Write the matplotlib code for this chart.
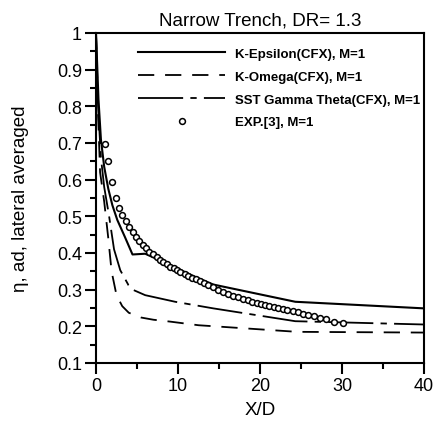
import numpy as np
import matplotlib
matplotlib.use("Agg")
import matplotlib.pyplot as plt
from matplotlib.ticker import MultipleLocator

# curves
x_keps = [0, 0.3, 0.6, 1.0, 1.5, 2.0, 2.6, 3.5, 4.45, 6.0, 8.0, 10.0, 12.0, 14.3, 24.3, 40.0]
y_keps = [1.0, 0.82, 0.71, 0.635, 0.575, 0.53, 0.49, 0.445, 0.396, 0.398, 0.378, 0.357, 0.336, 0.314, 0.267, 0.249]

x_komg = [0, 0.25, 0.5, 1.0, 1.5, 1.9, 2.5, 3.2, 4.0, 5.5, 7.0, 9.0, 12.5, 24.5, 40.0]
y_komg = [1.0, 0.78, 0.62, 0.54, 0.44, 0.35, 0.285, 0.255, 0.237, 0.224, 0.218, 0.213, 0.203, 0.185, 0.183]

x_sst = [0, 0.25, 0.6, 1.0, 1.6, 2.2, 2.96, 3.97, 4.57, 6.0, 9.65, 14.3, 24.3, 40.0]
y_sst = [1.0, 0.80, 0.66, 0.58, 0.50, 0.41, 0.353, 0.312, 0.299, 0.285, 0.267, 0.249, 0.214, 0.205]

x_exp = [1.1, 1.5, 2.0, 2.4, 2.8, 3.2, 3.6, 4.0, 4.5, 4.9, 5.3, 5.7, 6.1, 6.5, 7.0, 7.4,
         7.8, 8.2, 8.6, 9.0, 9.5, 9.9, 10.3, 10.8, 11.2, 11.7, 12.2, 12.7, 13.2, 13.7,
         14.3, 14.9, 15.5, 16.1, 16.7, 17.3, 17.9, 18.5, 19.05, 19.6, 20.1, 20.6, 21.1,
         21.65, 22.2, 22.8, 23.35, 24.0, 24.6, 25.2, 25.9, 26.6, 27.3, 28.1, 29.0, 30.1]
y_exp = [0.698, 0.651, 0.594, 0.549, 0.523, 0.503, 0.486, 0.470, 0.456, 0.444, 0.433,
         0.423, 0.414, 0.404, 0.396, 0.389, 0.381, 0.375, 0.369, 0.363, 0.358, 0.353,
         0.348, 0.343, 0.338, 0.333, 0.328, 0.323, 0.318, 0.313, 0.306, 0.300, 0.294,
         0.288, 0.283, 0.279, 0.275, 0.271, 0.266, 0.263, 0.260, 0.257, 0.255, 0.252,
         0.249, 0.246, 0.244, 0.241, 0.238, 0.235, 0.231, 0.228, 0.223, 0.219, 0.213, 0.208]

labels = ["K-Epsilon(CFX), M=1", "K-Omega(CFX), M=1",
          "SST Gamma Theta(CFX), M=1", "EXP.[3], M=1"]

plt.rcParams['font.family'] = ['Liberation Sans', 'DejaVu Sans']

fig = plt.figure(figsize=(4.4, 4.31), dpi=100)
ax = fig.add_axes([96 / 440, 1 - 364 / 431, 328 / 440, 330 / 431])

ax.plot(x_keps, y_keps, color='black', lw=1.5, label=labels[0])
l2, = ax.plot(x_komg, y_komg, color='black', lw=1.3, label=labels[1])
l2.set_dashes((9, 6))
l3, = ax.plot(x_sst, y_sst, color='black', lw=1.3, label=labels[2])
l3.set_dashes((25, 4, 3.5, 4))
ax.plot(x_exp, y_exp, 'o', ms=4.2, mfc='white', mec='black', mew=1.1,
        linestyle='none', label=labels[3])

ax.set_xlim(0, 40)
ax.set_ylim(0.1, 1.0)
ax.xaxis.set_major_locator(MultipleLocator(10))
ax.xaxis.set_minor_locator(MultipleLocator(5))
ax.yaxis.set_minor_locator(MultipleLocator(0.05))
ax.set_yticks(np.arange(0.1, 1.01, 0.1))
ax.set_yticklabels(["0.1", "0.2", "0.3", "0.4", "0.5", "0.6", "0.7", "0.8", "0.9", "1"])

ax.tick_params(which='major', direction='out', length=8, width=1.5, labelsize=13, pad=2)
ax.tick_params(which='minor', direction='out', length=4.5, width=1.5)
for s in ax.spines.values():
    s.set_linewidth(1.5)

ax.set_title("Narrow Trench, DR= 1.3", fontsize=13.5, pad=6)
ax.set_xlabel("X/D", fontsize=13.5, labelpad=5)
ax.set_ylabel("η, ad, lateral averaged", fontsize=13.5, labelpad=20)

ax.legend(loc='upper left', bbox_to_anchor=(0.128, 0.955), frameon=False,
          borderpad=0, borderaxespad=0, handlelength=6.6, handletextpad=0.75,
          labelspacing=0.8, numpoints=1,
          prop={'family': 'Liberation Sans', 'weight': 'bold', 'size': 9.5})

fig.savefig("out.png", dpi=100)
